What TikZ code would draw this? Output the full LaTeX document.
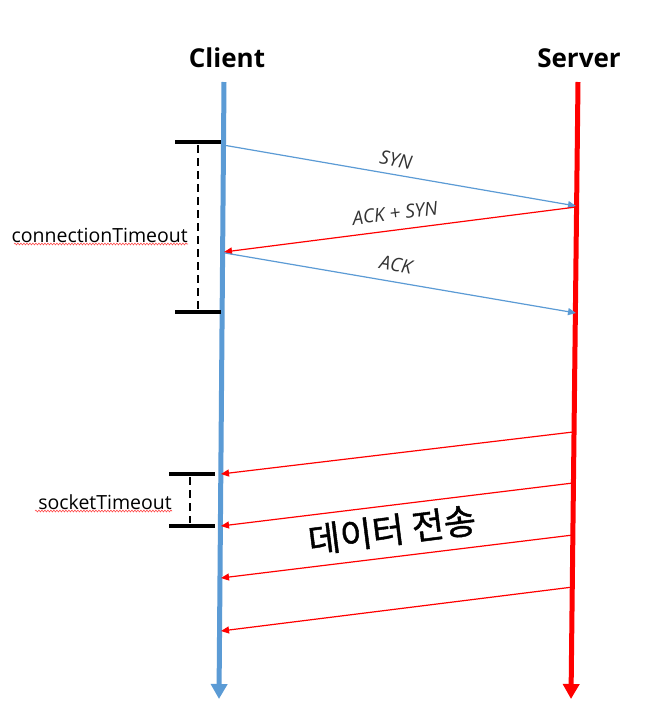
\documentclass[tikz,border=0pt]{standalone}
\usepackage{fontspec}
\setmainfont{Open Sans}
\newfontfamily\krfont[FakeBold=1.2]{Noto Sans CJK KR}
\usetikzlibrary{arrows.meta,decorations.pathmorphing}
\definecolor{cblue}{HTML}{5B9BD5}
\definecolor{sred}{HTML}{FF0000}
\begin{document}
\begin{tikzpicture}[x=1pt,y=-1pt,
  lifeline/.style={line width=5pt,-{Triangle[length=15pt,width=16pt]}},
  msgblue/.style={draw=cblue,line width=1.2pt,-{Triangle[length=8pt,width=7pt]}},
  msgred/.style={draw=sred,line width=1.2pt,-{Triangle[length=8pt,width=7pt]}},
  bar/.style={line width=4pt},
  dashline/.style={line width=1.8pt,dash pattern=on 8pt off 5pt},
  msglabel/.style={font=\fontsize{19}{22}\selectfont\itshape,text=black!80,inner sep=0pt},
  head/.style={font=\fontsize{26}{29}\selectfont\bfseries,inner sep=0pt},
  tlabel/.style={font=\fontsize{19.5}{22}\selectfont,inner sep=0pt},
  spell/.style={draw=sred!70,line width=0.6pt,decorate,decoration={snake,amplitude=0.9pt,segment length=3pt}}]
\path[use as bounding box,fill=white] (0,0) rectangle (660,713);
\clip (0,0) rectangle (660,713);
% headers
\node[head] (client) at (227,58) {Client};
\node[head] (server) at (579,58) {Server};
% lifelines
\coordinate (ctop) at (224,82);
\coordinate (cbot) at (219,699);
\coordinate (stop) at (578,82);
\coordinate (sbot) at (571,699);
\draw[lifeline,draw=cblue,fill=cblue] (ctop) -- (cbot);
\draw[lifeline,draw=sred,fill=sred] (stop) -- (sbot);
% handshake
\coordinate (c1) at (223,145);
\coordinate (s1) at (576,206);
\coordinate (s2) at (576,207);
\coordinate (c2) at (224,252);
\coordinate (c3) at (225,253);
\coordinate (s3) at (576,313);
\draw[msgblue] (c1) -- (s1);
\draw[msgred] (s2) -- (c2);
\draw[msgblue] (c3) -- (s3);
\node[msglabel,rotate=-9.6] (syn) at (396,160) {SYN};
\node[msglabel,rotate=7.2] (acksyn) at (395,213) {ACK + SYN};
\node[msglabel,rotate=-9.6] (ack) at (396,265) {ACK};
% data
\coordinate (d1s) at (573,432); \coordinate (d1c) at (221,474);
\coordinate (d2s) at (573,483); \coordinate (d2c) at (221,526);
\coordinate (d3s) at (573,535); \coordinate (d3c) at (221,578);
\coordinate (d4s) at (573,587); \coordinate (d4c) at (221,631);
\draw[msgred] (d1s) -- (d1c);
\draw[msgred] (d2s) -- (d2c);
\draw[msgred] (d3s) -- (d3c);
\draw[msgred] (d4s) -- (d4c);
\node[font=\krfont\fontsize{35}{38}\selectfont,rotate=7.2,inner sep=0pt] (data) at (392,530) {데이터 전송};
% connectionTimeout bracket
\coordinate (ct1) at (175,142); \coordinate (ct2) at (221,142);
\coordinate (cb1) at (175,312); \coordinate (cb2) at (221,312);
\coordinate (cd1) at (198,145); \coordinate (cd2) at (198,310);
\draw[bar] (ct1) -- (ct2);
\draw[bar] (cb1) -- (cb2);
\draw[dashline] (cd1) -- (cd2);
\node[tlabel,anchor=east] (ctlabel) at (188,235) {connectionTimeout};
\coordinate (cw1) at (14,244); \coordinate (cw2) at (188,244);
\draw[spell] (cw1) -- (cw2);
% socketTimeout bracket
\coordinate (st1) at (169,474); \coordinate (st2) at (215,474);
\coordinate (sb1) at (169,526); \coordinate (sb2) at (215,526);
\coordinate (sd1) at (190,477); \coordinate (sd2) at (190,523);
\draw[bar] (st1) -- (st2);
\draw[bar] (sb1) -- (sb2);
\draw[dashline] (sd1) -- (sd2);
\node[tlabel,anchor=east] (stlabel) at (172,502) {socketTimeout};
\coordinate (sw1) at (35,511); \coordinate (sw2) at (172,511);
\draw[spell] (sw1) -- (sw2);
\end{tikzpicture}
\end{document}
